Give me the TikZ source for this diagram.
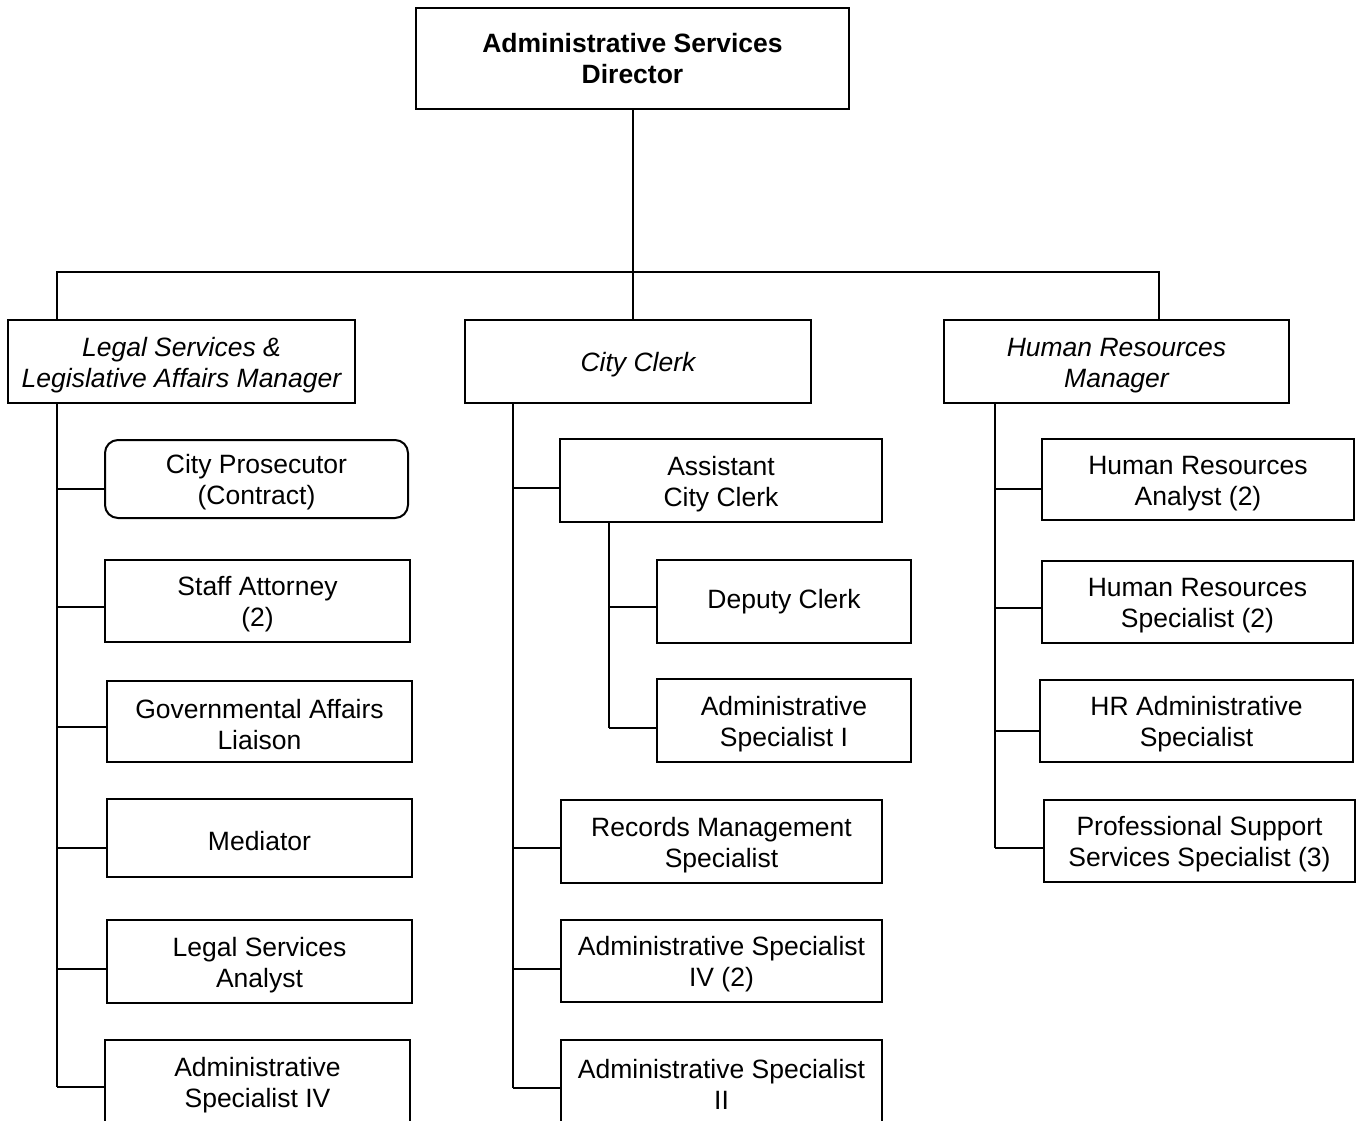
\documentclass[tikz,border=0pt]{standalone}
\usepackage{fontspec}
\setmainfont{Liberation Sans}
\newcommand\myst{\rule{0pt}{12.8pt}}
\begin{document}
\begin{tikzpicture}[x=0.5pt,y=-0.5pt,
  box/.style={draw, line width=1pt, align=center, inner sep=0pt,
    font={\fontsize{13.25}{15.5}\selectfont}},
  conn/.style={line width=1pt},
  wd/.style={minimum width=#1*0.5pt},
  ht/.style={minimum height=#1*0.5pt}]
\useasboundingbox (0,0) rectangle (1359,1120);
\clip (0,0) rectangle (1359,1120);
% top
\node[box, wd=433, ht=101, font={\fontsize{13.25}{15.5}\selectfont\bfseries}] (dir) at (632.5,58.5) {Administrative Services\\Director};
% managers
\node[box, wd=347, ht=83, font={\fontsize{13.25}{15.5}\selectfont\itshape}] (legal) at (181.5,361.5) {\myst Legal Services \&\\Legislative Affairs Manager};
\node[box, wd=346, ht=83, font={\fontsize{13.25}{15.5}\selectfont\itshape}] (clerk) at (638,361.5) {\myst City Clerk};
\node[box, wd=345, ht=83, font={\fontsize{13.25}{15.5}\selectfont\itshape}] (hr) at (1116.5,361.5) {\myst Human Resources\\Manager};
% legal column
\node[box, wd=303, ht=78, rounded corners=6.5pt] (pros) at (256.5,479) {\myst City Prosecutor\\(Contract)};
\node[box, wd=305, ht=82] (staff) at (257.5,601) {\myst Staff Attorney\\(2)};
\node[box, wd=305, ht=81] (gov) at (259.5,721.5) {\myst Governmental Affairs\\Liaison};
\node[box, wd=305, ht=78] (med) at (259.5,838) {\myst Mediator};
\node[box, wd=305, ht=83] (lsa) at (259.5,961.5) {\myst Legal Services\\Analyst};
\node[box, wd=305, ht=83] (asiv) at (257.5,1081.5) {\myst Administrative\\Specialist IV};
% clerk column
\node[box, wd=322, ht=83] (acc) at (721,480.5) {\myst Assistant\\City Clerk};
\node[box, wd=254, ht=83] (dep) at (784,601.5) {Deputy Clerk};
\node[box, wd=254, ht=83] (asi) at (784,720.5) {\myst Administrative\\Specialist I};
\node[box, wd=321, ht=83] (rec) at (721.5,841.5) {\myst Records Management\\Specialist};
\node[box, wd=321, ht=82] (asivb) at (721.5,961) {\myst Administrative Specialist\\IV (2)};
\node[box, wd=321, ht=83] (asii) at (721.5,1081.5) {\myst Administrative Specialist\\II};
% hr column
\node[box, wd=312, ht=81] (hra) at (1198,479.5) {\myst Human Resources\\Analyst (2)};
\node[box, wd=311, ht=82] (hrs) at (1197.5,602) {\myst Human Resources\\Specialist (2)};
\node[box, wd=313, ht=82] (hrad) at (1196.5,721) {\myst HR Administrative\\Specialist};
\node[box, wd=311, ht=82] (pss) at (1199.5,841) {\myst Professional Support\\Services Specialist (3)};
% bus
\coordinate (busL) at (57,272);
\coordinate (busR) at (1159,272);
\draw[conn] (dir.south) -- (dir.south |- busL);
\draw[conn] (legal.north -| busL) -- (busL) -- (busR) -- (busR |- hr.north);
\draw[conn] (dir.south |- busL) -- (dir.south |- clerk.north);
% legal trunk
\coordinate (l1) at (57,489);
\coordinate (l2) at (57,607);
\coordinate (l3) at (57,727);
\coordinate (l4) at (57,848);
\coordinate (l5) at (57,969);
\coordinate (l6) at (57,1087);
\draw[conn] (legal.south -| l1) -- (l6);
\draw[conn] (l1) -- (l1 -| pros.west);
\draw[conn] (l2) -- (l2 -| staff.west);
\draw[conn] (l3) -- (l3 -| gov.west);
\draw[conn] (l4) -- (l4 -| med.west);
\draw[conn] (l5) -- (l5 -| lsa.west);
\draw[conn] (l6) -- (l6 -| asiv.west);
% clerk trunk
\coordinate (c1) at (513,488);
\coordinate (c2) at (513,848);
\coordinate (c3) at (513,969);
\coordinate (c4) at (513,1088);
\draw[conn] (clerk.south -| c1) -- (c4);
\draw[conn] (c1) -- (c1 -| acc.west);
\draw[conn] (c2) -- (c2 -| rec.west);
\draw[conn] (c3) -- (c3 -| asivb.west);
\draw[conn] (c4) -- (c4 -| asii.west);
\coordinate (s1) at (609,607);
\coordinate (s2) at (609,728);
\draw[conn] (acc.south -| s1) -- (s2);
\draw[conn] (s1) -- (s1 -| dep.west);
\draw[conn] (s2) -- (s2 -| asi.west);
% hr trunk
\coordinate (h1) at (995,489);
\coordinate (h2) at (995,608);
\coordinate (h3) at (995,731);
\coordinate (h4) at (995,848);
\draw[conn] (hr.south -| h1) -- (h4);
\draw[conn] (h1) -- (h1 -| hra.west);
\draw[conn] (h2) -- (h2 -| hrs.west);
\draw[conn] (h3) -- (h3 -| hrad.west);
\draw[conn] (h4) -- (h4 -| pss.west);
\end{tikzpicture}
\end{document}
